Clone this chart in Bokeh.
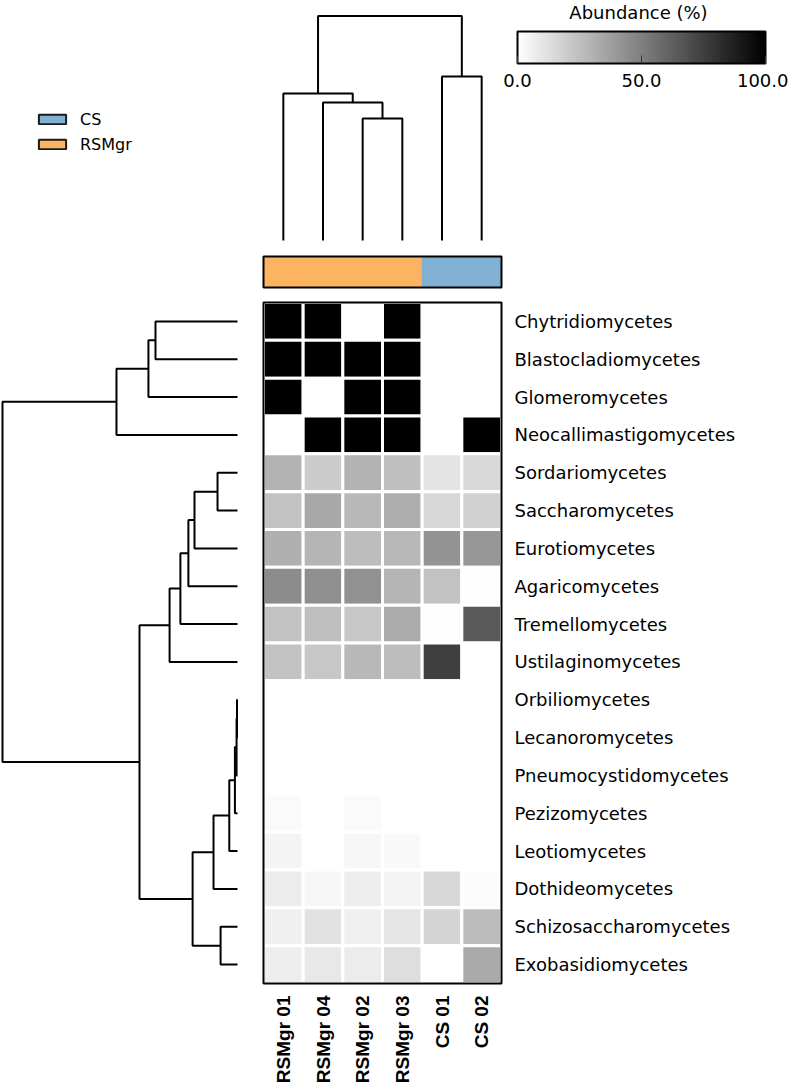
from bokeh.plotting import figure
from bokeh.models import (Range1d, ColumnDataSource, LinearColorMapper, ColorBar,
                          FixedTicker, PrintfTickFormatter, Legend, LegendItem, Label)
from bokeh.core.properties import value
from bokeh.embed import file_html
from bokeh.resources import INLINE

# ---------------- data ----------------
samples = ["RSMgr 01", "RSMgr 04", "RSMgr 02", "RSMgr 03", "CS 01", "CS 02"]
sample_groups = ["RSMgr", "RSMgr", "RSMgr", "RSMgr", "CS", "CS"]
group_names = ["CS", "RSMgr"]
group_colors = ["#80b1d3", "#fdb462"]

classes = ["Chytridiomycetes", "Blastocladiomycetes", "Glomeromycetes",
           "Neocallimastigomycetes", "Sordariomycetes", "Saccharomycetes",
           "Eurotiomycetes", "Agaricomycetes", "Tremellomycetes",
           "Ustilaginomycetes", "Orbiliomycetes", "Lecanoromycetes",
           "Pneumocystidomycetes", "Pezizomycetes", "Leotiomycetes",
           "Dothideomycetes", "Schizosaccharomycetes", "Exobasidiomycetes"]

# abundance (%) per sample, in the order of `classes`
rsmgr01 = [100, 100, 100, 0, 30, 24, 31, 45, 24, 24, 0, 0, 0, 2.0, 4.3, 7.5, 5.9, 6.7]
rsmgr04 = [100, 100, 0, 100, 20, 34, 29, 44, 25, 22, 0, 0, 0, 0, 0, 3.5, 11.4, 9.0]
rsmgr02 = [0, 100, 100, 100, 30, 28, 26, 43, 22, 28, 0, 0, 0, 2.0, 3.5, 6.7, 5.9, 7.5]
rsmgr03 = [100, 100, 100, 100, 25, 32, 28, 29, 33, 26, 0, 0, 0, 0, 2.7, 4.3, 9.8, 12.9]
cs01 = [0, 0, 0, 0, 11, 16, 42, 24, 1, 75, 0, 0, 0, 0, 0, 15.3, 16.9, 0]
cs02 = [0, 0, 0, 100, 15, 18, 41, 1, 65, 0, 0, 0, 0, 0, 0, 1.2, 26.3, 33.3]
sample_values = [rsmgr01, rsmgr04, rsmgr02, rsmgr03, cs01, cs02]

# column dendrogram merges: (child a, child b, height); new clusters are c0, c1, ...
col_merges = [("RSMgr 02", "RSMgr 03", 0.543),
              ("RSMgr 04", "c0", 0.615),
              ("RSMgr 01", "c1", 0.655),
              ("CS 01", "CS 02", 0.730),
              ("c2", "c3", 1.0)]

# row dendrogram merges
row_merges = [("Chytridiomycetes", "Blastocladiomycetes", 0.349),
              ("c0", "Glomeromycetes", 0.379),
              ("c1", "Neocallimastigomycetes", 0.515),
              ("Sordariomycetes", "Saccharomycetes", 0.085),
              ("c3", "Eurotiomycetes", 0.183),
              ("c4", "Agaricomycetes", 0.209),
              ("c5", "Tremellomycetes", 0.243),
              ("c6", "Ustilaginomycetes", 0.289),
              ("Orbiliomycetes", "Lecanoromycetes", 0.002),
              ("c8", "Pneumocystidomycetes", 0.004),
              ("c9", "Pezizomycetes", 0.011),
              ("c10", "Leotiomycetes", 0.035),
              ("c11", "Dothideomycetes", 0.102),
              ("Schizosaccharomycetes", "Exobasidiomycetes", 0.072),
              ("c12", "c13", 0.191),
              ("c7", "c14", 0.417),
              ("c2", "c15", 1.0)]

cbar_ticks = [0, 50, 100]
cbar_title = "Abundance (%)"

# ---------------- layout (pixels inside the figure) ----------------
W, H = 788, 1084
NC, NR = len(samples), len(classes)
HEAT_L, HEAT_R = 263.0, 501.0
HEAT_T, HEAT_B = 302.0, 983.0
CW = (HEAT_R - HEAT_L) / NC
CH = (HEAT_B - HEAT_T) / NR
LEFT_ROOT, LEFT_LEAF = 2.0, 237.0
TOP_ROOT, TOP_LEAF = 15.5, 240.0

x0 = -0.5 - HEAT_L / CW
y0 = -0.5 - HEAT_T / CH


def px_x(px):
    return x0 + px / CW


def px_y(py):
    return y0 + py / CH


p = figure(width=W, height=H, output_backend="svg", toolbar_location=None,
           x_range=Range1d(x0, x0 + W / CW), y_range=Range1d(y0 + H / CH, y0),
           x_axis_type=None, y_axis_type=None, min_border=0)
p.min_border_left = p.min_border_right = p.min_border_top = p.min_border_bottom = 0
p.grid.visible = False
p.outline_line_color = None
p.background_fill_color = "white"

hmax_row = max(m[2] for m in row_merges)
hmax_col = max(m[2] for m in col_merges)
sl = hmax_row / (LEFT_LEAF - LEFT_ROOT)
st = hmax_col / (TOP_LEAF - TOP_ROOT)
p.extra_x_ranges = {"dl": Range1d(LEFT_LEAF * sl, (LEFT_LEAF - W) * sl)}
p.extra_y_ranges = {"dt": Range1d((TOP_LEAF - H) * st, TOP_LEAF * st)}


def dendro(leaves, merges):
    pos = {n: float(i) for i, n in enumerate(leaves)}
    hgt = {n: 0.0 for n in leaves}
    P, Hh = [], []
    for k, (a, b, h) in enumerate(merges):
        P.append([pos[a], pos[a], pos[b], pos[b]])
        Hh.append([hgt[a], h, h, hgt[b]])
        pos["c%d" % k] = (pos[a] + pos[b]) / 2
        hgt["c%d" % k] = h
    return P, Hh


# ---------------- heatmap ----------------
palette = ["#%02x%02x%02x" % (v, v, v) for v in range(255, -1, -1)]
mapper = LinearColorMapper(palette=palette, low=0, high=100)

hx, hy, hv = [], [], []
for ci, vals in enumerate(sample_values):
    for ri, v in enumerate(vals):
        hx.append(ci)
        hy.append(ri)
        hv.append(v)
src = ColumnDataSource(dict(x=hx, y=hy, v=hv))
p.rect(x="x", y="y", width=1, height=1, source=src,
       fill_color={"field": "v", "transform": mapper},
       line_color="white", line_width=3)
p.rect(x=[(NC - 1) / 2], y=[(NR - 1) / 2], width=NC, height=NR,
       fill_color=None, line_color="black", line_width=2)

# group annotation bar
bar_y = -0.5 - (15 + 15.5) / CH
bar_h = 31 / CH
gcol = [group_colors[group_names.index(g)] for g in sample_groups]
p.rect(x=list(range(NC)), y=[bar_y] * NC, width=1, height=bar_h,
       fill_color=gcol, line_color=gcol, line_width=1)
p.rect(x=[(NC - 1) / 2], y=[bar_y], width=NC, height=bar_h,
       fill_color=None, line_color="black", line_width=2)

# labels
p.text(x=[NC - 0.5] * NR, y=list(range(NR)), text=classes, x_offset=13,
       text_font=value("DejaVu Sans"), text_font_size="18px",
       text_baseline="middle", text_align="left", text_color="black")
p.text(x=list(range(NC)), y=[NR - 0.5] * NC, text=samples, y_offset=12,
       angle=1.5707963, text_font=value("Liberation Sans"),
       text_font_style="bold", text_font_size="19px",
       text_baseline="middle", text_align="right", text_color="black")

# ---------------- dendrograms ----------------
cp, chh = dendro(samples, col_merges)
p.multi_line(xs=cp, ys=chh, y_range_name="dt", line_color="black", line_width=2)
rp, rhh = dendro(classes, row_merges)
p.multi_line(xs=rhh, ys=rp, x_range_name="dl", line_color="black", line_width=2)

# ---------------- legend ----------------
items = []
for g, c in zip(group_names, group_colors):
    gi = sample_groups.index(g)
    r = p.rect(x=[gi], y=[bar_y], width=1, height=bar_h, fill_color=c,
               line_color="#1a1a1a", line_width=2, visible=False)
    items.append(LegendItem(label=g, renderers=[r]))
legend = Legend(items=items, location=(35, 929), orientation="vertical",
                padding=0, margin=0, spacing=3, glyph_width=34, glyph_height=12,
                label_height=22, label_standoff=11,
                label_text_font="DejaVu Sans", label_text_font_size="16px",
                label_text_color="black",
                border_line_color=None, background_fill_alpha=0)
p.add_layout(legend, "center")

# ---------------- colour bar ----------------
cb = ColorBar(color_mapper=mapper, orientation="horizontal", location=(517, 995),
              width=248, height=32, padding=0, margin=0,
              ticker=FixedTicker(ticks=cbar_ticks),
              formatter=PrintfTickFormatter(format="%.1f"),
              major_label_text_font="DejaVu Sans", major_label_text_font_size="18px",
              major_label_text_color="black",
              label_standoff=10, bar_line_color="black", bar_line_width=2,
              major_tick_line_color="#333333", major_tick_in=8, major_tick_out=0,
              background_fill_alpha=0, border_line_color=None)
p.add_layout(cb, "center")
p.add_layout(Label(x=px_x(638), y=px_y(12), text=cbar_title, text_align="center",
                   text_baseline="middle", text_font="DejaVu Sans",
                   text_font_size="18px", text_color="black"))

open("out.html", "w").write(file_html(p, INLINE))
